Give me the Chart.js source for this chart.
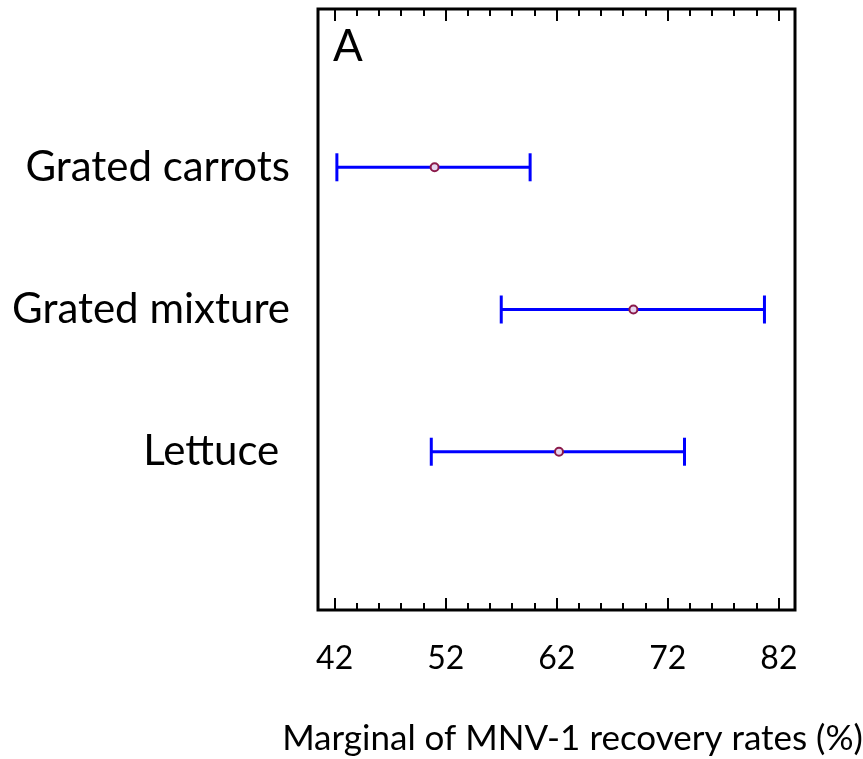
<!DOCTYPE html>
<html><head><meta charset="utf-8">
<script src="https://cdn.jsdelivr.net/npm/chart.js@4/dist/chart.umd.min.js"></script>
<style>html,body{margin:0;padding:0;background:#fff}#wrap{width:863px;height:759px;position:relative}</style>
</head><body><div id="wrap"><canvas id="c" width="863" height="759"></canvas></div>
<script>
// ---- data ----
const categories = ['Grated carrots', 'Grated mixture', 'Lettuce '];
const means   = [51.0, 68.9, 62.2];
const lowerCI = [42.2, 57.0, 50.7];
const upperCI = [59.6, 80.7, 73.5];
const xTicks  = [42, 52, 62, 72, 82];
const minorStep = 2;
const panelLabel = 'A';
const xTitle = 'Marginal of MNV-1 recovery rates (%)';

const FONT = 'Lato, "Open Sans", sans-serif';
const BLUE = '#0000ff';
const MAROON = '#8b1a4a';

const datasets = [];
datasets.push({
  label: 'mean',
  data: means.map((m, i) => ({x: m, y: i + 1})),
  showLine: false,
  pointStyle: 'circle',
  pointRadius: 4,
  pointBorderWidth: 2,
  pointBorderColor: MAROON,
  pointBackgroundColor: '#e6d6f0'
});
categories.forEach((c, i) => {
  datasets.push({
    label: c,
    data: [{x: lowerCI[i], y: i + 1}, {x: upperCI[i], y: i + 1}],
    showLine: true,
    borderColor: BLUE,
    borderWidth: 3,
    pointStyle: 'line',
    rotation: 90,
    pointRadius: 14,
    pointBorderWidth: 3,
    pointBorderColor: BLUE
  });
});

const frame = {
  id: 'frame',
  afterDraw(chart) {
    const {ctx, chartArea: a, scales: {x}} = chart;
    ctx.save();
    ctx.strokeStyle = '#000';
    ctx.lineWidth = 3;
    ctx.strokeRect(a.left, a.top, a.right - a.left, a.bottom - a.top);
    ctx.lineWidth = 2;
    for (let v = xTicks[0]; v <= xTicks[xTicks.length - 1]; v += minorStep) {
      const px = Math.round(x.getPixelForValue(v));
      const len = xTicks.includes(v) ? 12 : 7;
      ctx.beginPath();
      ctx.moveTo(px, a.bottom); ctx.lineTo(px, a.bottom - len);
      ctx.moveTo(px, a.top); ctx.lineTo(px, a.top + len);
      ctx.stroke();
    }
    ctx.fillStyle = '#000';
    ctx.font = '44px ' + FONT;
    ctx.textBaseline = 'alphabetic';
    ctx.textAlign = 'left';
    ctx.fillText(panelLabel, a.left + 15, a.top + 52);
    // x-axis title
    ctx.font = '35px ' + FONT;
    ctx.textAlign = 'center';
    ctx.textBaseline = 'middle';
    ctx.fillText(xTitle, (a.left + a.right) / 2 + 16, x.bottom - 20);
    ctx.restore();
  }
};

new Chart(document.getElementById('c'), {
  type: 'scatter',
  data: {datasets},
  options: {
    responsive: false,
    animation: false,
    events: [],
    layout: {autoPadding: false, padding: {top: 9, right: 68, left: 0, bottom: 0}},
    plugins: {legend: {display: false}, tooltip: {enabled: false}},
    scales: {
      x: {
        type: 'linear',
        min: 40.5, max: 83.45,
        afterBuildTicks: s => { s.ticks = xTicks.map(v => ({value: v})); },
        afterFit: s => { s.height = 149; s.paddingLeft = 0; s.paddingRight = 0; },
        grid: {display: false, drawTicks: false},
        border: {display: false},
        ticks: {color: '#000', font: {family: FONT, size: 32}, padding: 29, maxRotation: 0, autoSkip: false},
        title: {display: false}
      },
      y: {
        type: 'linear',
        reverse: true,
        min: -0.113, max: 4.113,
        afterBuildTicks: s => { s.ticks = categories.map((c, i) => ({value: i + 1})); },
        afterFit: s => { s.width = 318; s.paddingTop = 0; s.paddingBottom = 0; },
        grid: {display: false, drawTicks: false},
        border: {display: false},
        ticks: {color: '#000', font: {family: FONT, size: 42}, padding: 28, autoSkip: false,
                callback: v => categories[v - 1]}
      }
    }
  },
  plugins: [frame]
});
</script></body></html>
